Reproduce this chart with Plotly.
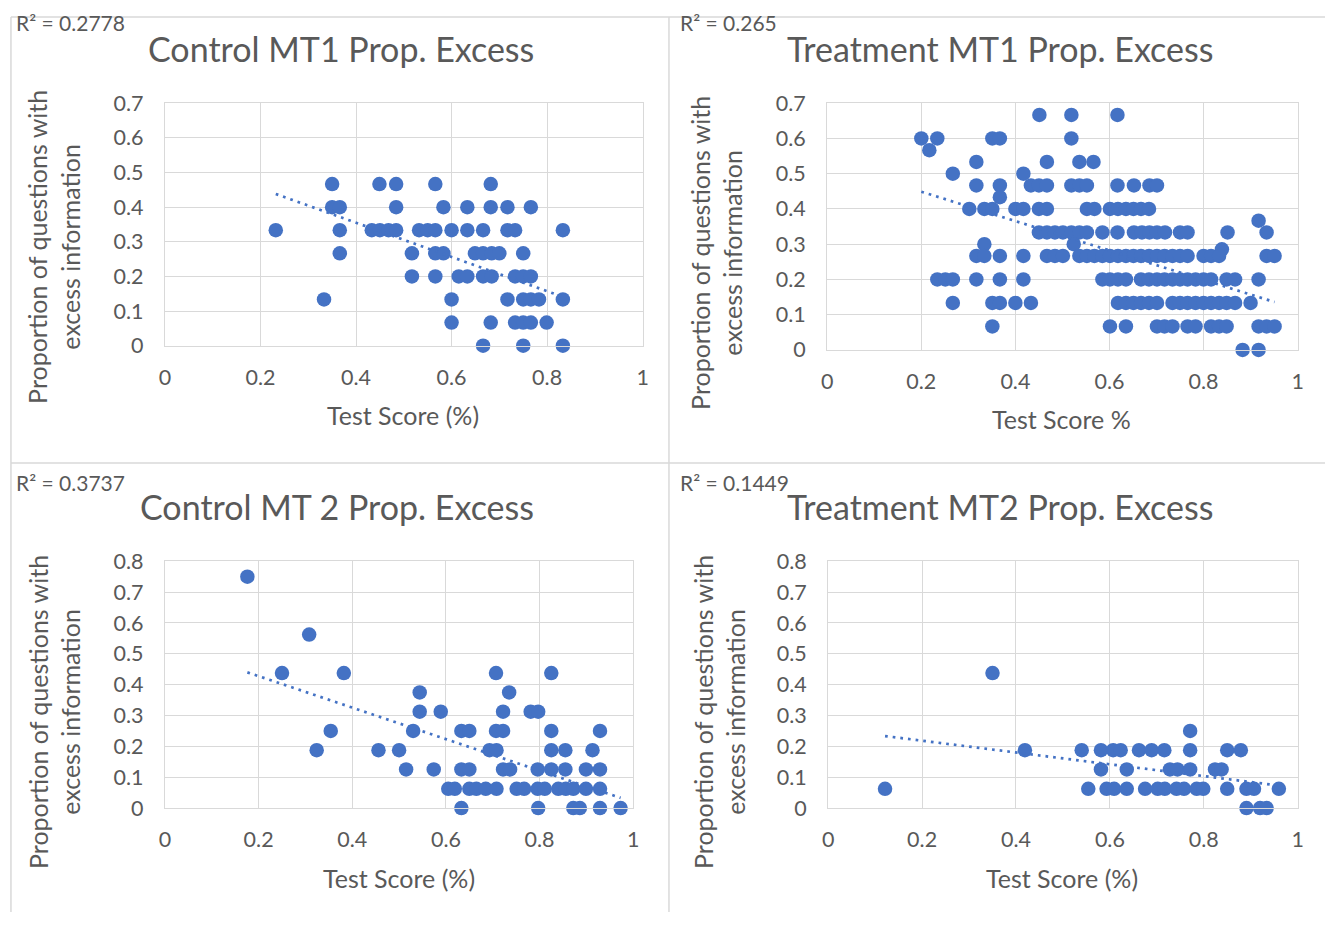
import plotly.graph_objects as go

W, H = 1331, 925
BLUE = "#4472C4"
TXT = "#595959"
GRID = "#d9d9d9"
FONT = "Lato"

# ---------------- data ----------------
titles = ["Control MT1 Prop. Excess", "Treatment MT1 Prop. Excess",
          "Control MT 2 Prop. Excess", "Treatment MT2 Prop. Excess"]
r2_labels = ["R² = 0.2778", "R² = 0.265", "R² = 0.3737", "R² = 0.1449"]
x_titles = ["Test Score (%)", "Test Score %", "Test Score (%)", "Test Score (%)"]
y_title = "Proportion of questions with<br>excess information"

# Control MT1
c1_x = [0.350, 0.449, 0.484, 0.566, 0.682,
        0.350, 0.366, 0.484, 0.583, 0.633, 0.682, 0.717, 0.766,
        0.232, 0.366, 0.433, 0.450, 0.468, 0.484, 0.532, 0.550, 0.566, 0.600, 0.633, 0.666, 0.717, 0.733, 0.833,
        0.366, 0.517, 0.566, 0.583, 0.649, 0.666, 0.684, 0.700, 0.750,
        0.517, 0.566, 0.615, 0.633, 0.666, 0.684, 0.733, 0.750, 0.766,
        0.333, 0.600, 0.717, 0.750, 0.766, 0.783, 0.833,
        0.600, 0.682, 0.733, 0.750, 0.766, 0.799,
        0.666, 0.750, 0.833]
c1_y = [0.4667] * 5 + [0.4] * 8 + [0.3333] * 15 + [0.2667] * 9 + [0.2] * 9 + [0.1333] * 7 + [0.0667] * 6 + [0.0] * 3

# Treatment MT1
t1_x = [0.451, 0.519, 0.617,
        0.200, 0.234, 0.351, 0.367, 0.519,
        0.217,
        0.317, 0.467, 0.536, 0.566,
        0.267, 0.417,
        0.317, 0.367, 0.433, 0.450, 0.467, 0.519, 0.536, 0.552, 0.617, 0.652, 0.685, 0.701,
        0.367,
        0.302, 0.334, 0.351, 0.400, 0.417, 0.450, 0.467, 0.552, 0.568, 0.601, 0.618, 0.635, 0.651, 0.667, 0.684,
        0.917,
        0.450, 0.467, 0.484, 0.501, 0.519, 0.536, 0.552, 0.585, 0.617, 0.652, 0.669, 0.685, 0.701, 0.718, 0.750, 0.766, 0.851, 0.934,
        0.334, 0.524,
        0.839,
        0.317, 0.334, 0.367, 0.417, 0.467, 0.484, 0.501, 0.536, 0.552, 0.568, 0.585, 0.601, 0.618, 0.635, 0.651, 0.667, 0.684, 0.701, 0.717, 0.734, 0.750, 0.766, 0.800, 0.816, 0.833, 0.934, 0.951,
        0.234, 0.251, 0.267, 0.317, 0.367, 0.417, 0.585, 0.601, 0.618, 0.635, 0.667, 0.684, 0.701, 0.717, 0.734, 0.750, 0.766, 0.783, 0.800, 0.816, 0.849, 0.867, 0.917,
        0.267, 0.351, 0.367, 0.400, 0.433, 0.618, 0.635, 0.651, 0.667, 0.684, 0.701, 0.734, 0.750, 0.766, 0.783, 0.800, 0.816, 0.833, 0.849, 0.867, 0.900,
        0.351, 0.601, 0.635, 0.701, 0.717, 0.734, 0.766, 0.783, 0.816, 0.833, 0.849, 0.917, 0.934, 0.951,
        0.883, 0.917]
t1_y = ([0.6667] * 3 + [0.6] * 5 + [0.5667] * 1 + [0.5333] * 4 + [0.5] * 2 + [0.4667] * 12 + [0.4333] * 1
        + [0.4] * 15 + [0.3667] * 1 + [0.3333] * 18 + [0.3] * 2 + [0.2857] * 1 + [0.2667] * 27
        + [0.2] * 23 + [0.1333] * 21 + [0.0667] * 14 + [0.0] * 2)

# Control MT2
c2_x = [0.176, 0.308, 0.250, 0.382, 0.707, 0.825,
        0.544, 0.735,
        0.544, 0.589, 0.722, 0.781, 0.797,
        0.354, 0.530, 0.633, 0.650, 0.707, 0.722, 0.825, 0.929,
        0.324, 0.456, 0.500, 0.693, 0.708, 0.825, 0.855, 0.913,
        0.515, 0.574, 0.633, 0.650, 0.722, 0.737, 0.796, 0.825, 0.855, 0.899, 0.929,
        0.605, 0.619, 0.650, 0.665, 0.685, 0.708, 0.751, 0.767, 0.796, 0.811, 0.840, 0.856, 0.872, 0.899, 0.929,
        0.633, 0.797, 0.872, 0.886, 0.929, 0.973]
c2_y = ([0.75, 0.5625, 0.4375, 0.4375, 0.4375, 0.4375] + [0.375] * 2 + [0.3125] * 5 + [0.25] * 8
        + [0.1875] * 8 + [0.125] * 11 + [0.0625] * 15 + [0.0] * 6)

# Treatment MT2
t2_x = [0.121, 0.350, 0.419,
        0.771,
        0.540, 0.581, 0.607, 0.623, 0.662, 0.689, 0.716, 0.771, 0.850, 0.879,
        0.581, 0.636, 0.728, 0.744, 0.771, 0.824, 0.838,
        0.554, 0.593, 0.609, 0.636, 0.675, 0.702, 0.717, 0.742, 0.758, 0.785, 0.799, 0.850, 0.891, 0.907, 0.960,
        0.891, 0.920, 0.934]
t2_y = ([0.0625, 0.4375, 0.1875] + [0.25] + [0.1875] * 10 + [0.125] * 7 + [0.0625] * 15 + [0.0] * 3)

# Linear trendlines (endpoints)
trend_x = [[0.232, 0.833], [0.200, 0.951], [0.176, 0.973], [0.121, 0.960]]
trend_y = [[0.438, 0.141], [0.449, 0.136], [0.440, 0.033], [0.2335, 0.073]]

panels = [(c1_x, c1_y), (t1_x, t1_y), (c2_x, c2_y), (t2_x, t2_y)]
y_max = [0.7, 0.7, 0.8, 0.8]

# ---------------- layout geometry (target pixels in the final picture) ----------------
plot_boxes = [(165, 642.7, 104.3, 346.7), (827.3, 1297.7, 104.3, 351.0),
              (165, 633.3, 562.3, 809.0), (828.3, 1297.7, 562.3, 809.0)]
title_pos = [(341, 50), (1000, 50), (337, 508), (1000, 508)]
r2_pos = [(14, 24), (678, 24), (14, 484), (678, 484)]
xt_pos = [(403, 416), (1062, 420), (399, 879), (1062, 879)]
yt_pos = [(54, 248), (717, 254), (54, 713), (719, 713)]

# calibration of the capture (figure px -> picture px), measured on earlier renders
SX, OX, SY, OY = 0.991, 6.05, 0.9717, 14.1


def px(x):
    return ((x - OX) / SX) / W


def py(y):
    return 1 - ((y - OY) / SY) / H


fig = go.Figure()
annotations = []
for i, ((xs, ys), (x0, x1, y0, y1)) in enumerate(zip(panels, plot_boxes)):
    n = "" if i == 0 else str(i + 1)
    xa, ya = "x" + n, "y" + n
    fig.add_trace(go.Scatter(x=xs, y=ys, mode="markers", xaxis=xa, yaxis=ya,
                             marker=dict(size=14.5, color=BLUE), cliponaxis=False,
                             showlegend=False, hoverinfo="x+y"))
    fig.add_trace(go.Scatter(x=trend_x[i], y=trend_y[i], mode="lines", xaxis=xa, yaxis=ya,
                             line=dict(color=BLUE, width=2.7, dash="2.7px,5px"),
                             showlegend=False, hoverinfo="skip"))
    axis_common = dict(showgrid=True, gridcolor=GRID, gridwidth=1.3, showline=True,
                       mirror=True, linecolor=GRID, linewidth=1.3, zeroline=False,
                       ticks="", tickfont=dict(family=FONT, size=21.5, color=TXT),
                       fixedrange=True)
    fig.update_layout(**{
        "xaxis" + n: dict(domain=[px(x0), px(x1)], range=[0, 1], dtick=0.2, anchor=ya,
                          ticklabelstandoff=12, **axis_common),
        "yaxis" + n: dict(domain=[py(y1), py(y0)], range=[0, y_max[i]], dtick=0.1, anchor=xa,
                          ticklabelstandoff=16, **axis_common),
    })
    annotations += [
        dict(text=titles[i], x=px(title_pos[i][0]), y=py(title_pos[i][1]), xref="paper", yref="paper",
             showarrow=False, xanchor="center", yanchor="middle",
             font=dict(family=FONT, size=34, color=TXT)),
        dict(text=r2_labels[i], x=px(r2_pos[i][0]), y=py(r2_pos[i][1]), xref="paper", yref="paper",
             showarrow=False, xanchor="left", yanchor="middle",
             font=dict(family=FONT, size=21, color=TXT)),
        dict(text=x_titles[i], x=px(xt_pos[i][0]), y=py(xt_pos[i][1]), xref="paper", yref="paper",
             showarrow=False, xanchor="center", yanchor="middle",
             font=dict(family=FONT, size=25, color=TXT)),
        dict(text=y_title, x=px(yt_pos[i][0]), y=py(yt_pos[i][1]), xref="paper", yref="paper",
             showarrow=False, xanchor="center", yanchor="middle", textangle=-90,
             font=dict(family=FONT, size=25, color=TXT)),
    ]

# panel borders (kept at the figure frame)
border = dict(color=GRID, width=1.5)
bx0, bxm, by0, bym = 5 / W, 669 / W, 1 - 4 / H, 1 - 463 / H
shapes = [
    dict(type="line", xref="paper", yref="paper", x0=bx0, x1=bx0, y0=0, y1=by0, line=border),
    dict(type="line", xref="paper", yref="paper", x0=bxm, x1=bxm, y0=0, y1=by0, line=border),
    dict(type="line", xref="paper", yref="paper", x0=bx0, x1=1, y0=by0, y1=by0, line=border),
    dict(type="line", xref="paper", yref="paper", x0=bx0, x1=1, y0=bym, y1=bym, line=border),
]

fig.update_layout(width=W, height=H, margin=dict(l=0, r=0, t=0, b=0),
                  paper_bgcolor="white", plot_bgcolor="white",
                  annotations=annotations, shapes=shapes,
                  font=dict(family=FONT, color=TXT))

fig.write_html("out.html")
